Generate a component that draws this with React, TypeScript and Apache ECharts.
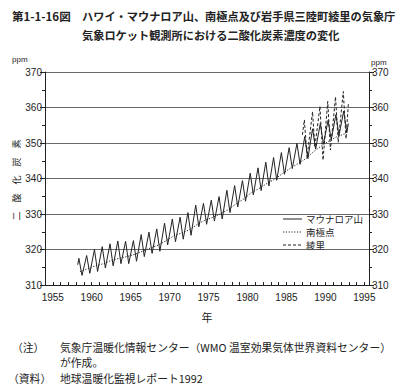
import React, { useEffect, useRef } from "react";
import * as echarts from "echarts";

// ---- Data ----
// Mauna Loa: seasonal peaks (≈May) and troughs (≈Oct), [year, ppm]
const maunaLoa: [number, number][] = [
  [1958.2, 315.7], [1958.35, 317.5], [1958.75, 312.7],
  [1959.35, 318.3], [1959.75, 313.3],
  [1960.35, 320.0], [1960.75, 313.8],
  [1961.35, 320.8], [1961.75, 314.8],
  [1962.35, 321.6], [1962.75, 315.4],
  [1963.35, 322.4], [1963.75, 316.0],
  [1964.35, 322.3], [1964.75, 316.0],
  [1965.35, 322.5], [1965.75, 316.7],
  [1966.35, 324.2], [1966.75, 318.0],
  [1967.35, 324.9], [1967.75, 318.9],
  [1968.35, 325.8], [1968.75, 319.5],
  [1969.35, 327.4], [1969.75, 321.3],
  [1970.35, 328.6], [1970.75, 322.2],
  [1971.35, 329.1], [1971.75, 322.9],
  [1972.35, 330.4], [1972.75, 324.0],
  [1973.35, 332.5], [1973.75, 326.4],
  [1974.35, 333.0], [1974.75, 327.1],
  [1975.35, 333.9], [1975.75, 328.0],
  [1976.35, 334.9], [1976.75, 328.6],
  [1977.35, 336.7], [1977.75, 330.4],
  [1978.35, 338.0], [1978.75, 332.0],
  [1979.35, 339.4], [1979.75, 333.6],
  [1980.35, 341.5], [1980.75, 335.4],
  [1981.35, 343.0], [1981.75, 336.6],
  [1982.35, 344.6], [1982.75, 337.9],
  [1983.35, 345.9], [1983.75, 339.5],
  [1984.35, 347.3], [1984.75, 341.2],
  [1985.35, 348.7], [1985.75, 342.8],
  [1986.35, 349.9], [1986.75, 344.0],
  [1987.35, 351.8], [1987.75, 345.6],
  [1988.35, 354.0], [1988.75, 348.3],
  [1989.35, 355.5], [1989.75, 349.7],
  [1990.35, 356.4], [1990.75, 350.9],
  [1991.35, 358.0], [1991.75, 352.1],
  [1992.35, 359.0], [1992.75, 352.9], [1992.95, 355.5],
];

// South Pole: smooth, small seasonal cycle, [year, ppm]
const southPole: [number, number][] = [
  [1958.5, 313.8], [1959.5, 314.6], [1960.5, 315.4], [1961.5, 316.0],
  [1962.5, 316.9], [1963.5, 317.5], [1964.5, 318.0], [1965.5, 318.6],
  [1966.5, 319.5], [1967.5, 320.4], [1968.5, 321.2], [1969.5, 322.4],
  [1970.5, 323.8], [1971.5, 324.6], [1972.5, 325.5], [1973.5, 327.0],
  [1974.5, 328.2], [1975.5, 329.0], [1976.5, 330.0], [1977.5, 331.2],
  [1978.5, 332.8], [1979.5, 334.2], [1980.5, 336.0], [1981.5, 337.2],
  [1982.5, 338.6], [1983.5, 339.8], [1984.5, 341.4], [1985.5, 342.9],
  [1986.5, 344.2], [1987.5, 345.6], [1988.5, 347.6], [1989.5, 349.2],
  [1990.5, 350.6], [1991.5, 351.8], [1992.5, 352.6],
];

// Ryori: large seasonal cycle, [year, ppm]
const ryori: [number, number][] = [
  [1987.05, 352.3], [1987.3, 356.5], [1987.65, 346.0],
  [1988.35, 358.8], [1988.65, 348.8],
  [1989.3, 360.3], [1989.7, 345.2],
  [1990.3, 361.7], [1990.65, 348.0],
  [1991.3, 363.0], [1991.65, 350.2],
  [1992.3, 364.5], [1992.65, 351.2], [1992.95, 361.0],
];

const seriesNames = ["マウナロア山", "南極点", "綾里"];
const xLabelYears = [1955, 1960, 1965, 1970, 1975, 1980, 1985, 1990, 1995];
const yTickLabels = [310, 320, 330, 340, 350, 360, 370];

const JP = '"Noto Sans CJK JP", "Noto Sans", sans-serif';
const NUM = '"Liberation Sans Narrow", "Liberation Sans", Arial, sans-serif';
const INK = "#222";
const DOTTED = [1.2, 1.6];
const DASHED = [3, 2];

export default function App() {
  const ref = useRef<HTMLDivElement>(null);

  useEffect(() => {
    document.body.style.margin = "0";
    if (!ref.current) return;
    const chart = echarts.init(ref.current, undefined, { renderer: "svg" });

    const yAxisCommon = {
      type: "value" as const,
      min: yTickLabels[0],
      max: yTickLabels[yTickLabels.length - 1],
      interval: 10,
      axisLine: { show: true, lineStyle: { color: INK, width: 1 } },
      axisTick: { show: true, length: 5, lineStyle: { color: INK } },
      minorTick: { show: true, splitNumber: 2, length: 3, lineStyle: { color: INK } },
      axisLabel: {
        color: INK,
        fontSize: 10,
        fontFamily: NUM,
        margin: 3,
        formatter: (v: number) => (yTickLabels.includes(Math.round(v)) ? String(Math.round(v)) : ""),
      },
    };

    const legendRows = seriesNames.map((name, i) => {
      const y = 219 + i * 13;
      const dash = i === 0 ? undefined : i === 1 ? DOTTED : DASHED;
      return [
        {
          type: "line",
          shape: { x1: 283, y1: y, x2: 302, y2: y },
          style: { stroke: INK, lineWidth: 1, lineDash: dash },
        },
        {
          type: "text",
          x: 306,
          y,
          style: { text: name, fontSize: 9.5, lineHeight: 10, fontFamily: JP, fill: INK, verticalAlign: "middle" },
        },
      ];
    }).flat();

    chart.setOption({
      animation: false,
      backgroundColor: "#fff",
      grid: { left: 45, right: 38, top: 72, bottom: 106, containLabel: false },
      xAxis: {
        type: "value",
        min: 1954,
        max: 1995.6,
        interval: 1,
        name: "年",
        nameLocation: "middle",
        nameGap: 26,
        nameTextStyle: { fontFamily: JP, fontSize: 11, color: INK },
        axisLine: { lineStyle: { color: INK, width: 1 } },
        axisTick: { show: true, inside: true, length: 3, lineStyle: { color: INK } },
        splitLine: { show: false },
        axisLabel: {
          color: INK,
          fontSize: 10,
          fontFamily: NUM,
          margin: 7,
          formatter: (v: number) => {
            const r = Math.round(v);
            return Math.abs(v - r) < 1e-6 && xLabelYears.includes(r) ? String(r) : "";
          },
        },
      },
      yAxis: [
        {
          ...yAxisCommon,
          position: "left",
          splitLine: { show: true, lineStyle: { color: "#444", width: 0.8 } },
        },
        {
          ...yAxisCommon,
          position: "right",
          splitLine: { show: false },
        },
      ],
      series: [
        {
          name: seriesNames[0],
          type: "line",
          data: maunaLoa,
          symbol: "none",
          lineStyle: { color: INK, width: 1, type: "solid" },
          itemStyle: { color: INK },
          z: 3,
        },
        {
          name: seriesNames[1],
          type: "line",
          data: southPole,
          symbol: "none",
          lineStyle: { color: INK, width: 1, type: DOTTED },
          itemStyle: { color: INK },
          z: 2,
        },
        {
          name: seriesNames[2],
          type: "line",
          data: ryori,
          symbol: "none",
          lineStyle: { color: INK, width: 1, type: DASHED },
          itemStyle: { color: INK },
          z: 4,
        },
      ],
      graphic: [
        { type: "text", left: 12, top: 10, style: { text: "第1-1-16図", fontSize: 11.5, fontWeight: "bold", fontFamily: JP, fill: INK } },
        { type: "text", left: 82, top: 10, style: { text: "ハワイ・マウナロア山、南極点及び岩手県三陸町綾里の気象庁", fontSize: 11.2, fontWeight: "bold", fontFamily: JP, fill: INK } },
        { type: "text", left: 82, top: 29, style: { text: "気象ロケット観測所における二酸化炭素濃度の変化", fontSize: 11.2, fontWeight: "bold", fontFamily: JP, fill: INK } },
        { type: "text", left: 12, top: 55, style: { text: "ppm", fontSize: 8, fontFamily: NUM, fill: INK } },
        { type: "text", left: 371, top: 58, style: { text: "ppm", fontSize: 8, fontFamily: NUM, fill: INK } },
        {
          type: "text",
          x: 16,
          y: 180,
          rotation: Math.PI / 2,
          style: { text: "二　酸　化　炭　素", fontSize: 9, fontFamily: JP, fill: INK, align: "center", verticalAlign: "middle" },
        },
        ...legendRows,
        { type: "text", left: 12, top: 342, style: { text: "（注）", fontSize: 10.8, fontFamily: JP, fill: INK } },
        { type: "text", left: 60, top: 342, style: { text: "気象庁温暖化情報センター（WMO 温室効果気体世界資料センター）", fontSize: 10.8, fontFamily: JP, fill: INK } },
        { type: "text", left: 60, top: 357, style: { text: "が作成。", fontSize: 10.8, fontFamily: JP, fill: INK } },
        { type: "text", left: 8, top: 373, style: { text: "（資料）", fontSize: 10.8, fontFamily: JP, fill: INK } },
        { type: "text", left: 60, top: 373, style: { text: "地球温暖化監視レポート1992", fontSize: 10.8, fontFamily: JP, fill: INK } },
      ],
    });

    return () => chart.dispose();
  }, []);

  return <div ref={ref} style={{ width: 407, height: 391 }} />;
}
